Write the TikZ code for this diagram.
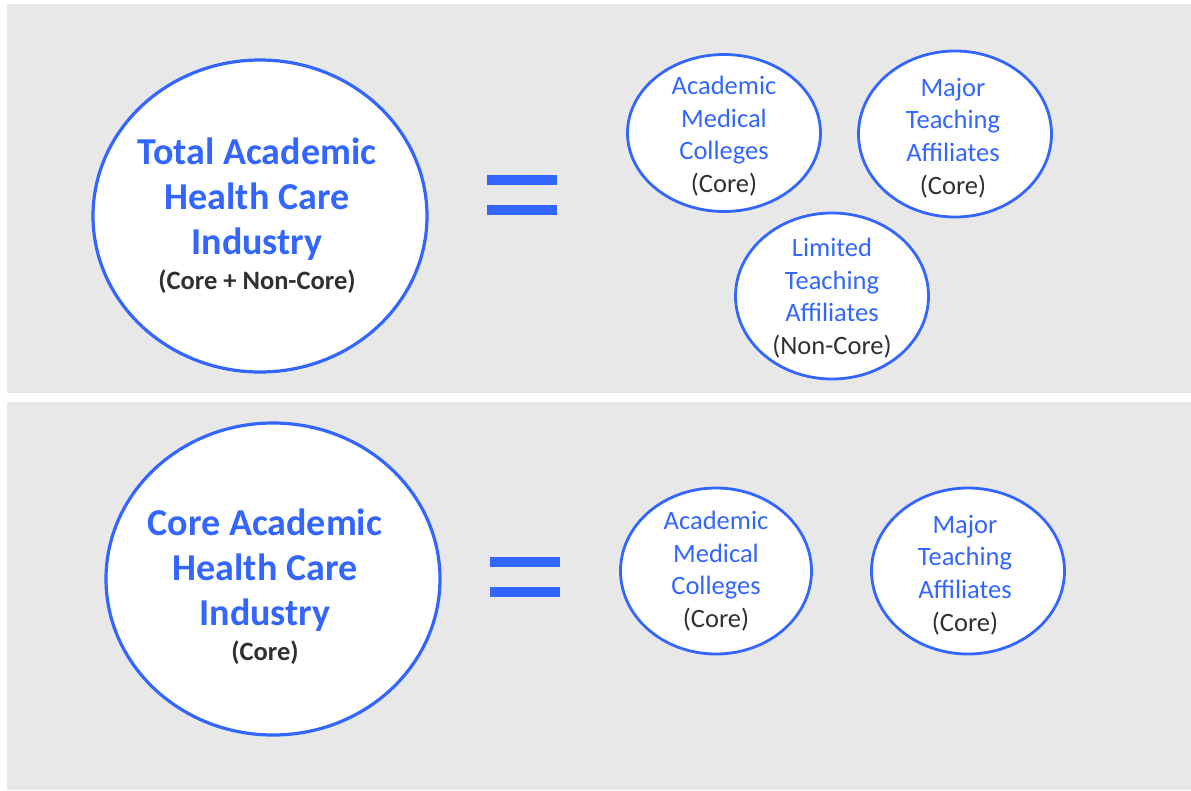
\documentclass[tikz,border=0pt]{standalone}
\usepackage{fontspec}
\setmainfont{Carlito}
\usepackage{tikz}
\usetikzlibrary{shapes.geometric, positioning}

\definecolor{bluetext}{HTML}{3366FF}
\definecolor{panelgray}{HTML}{E8E8E8}
\definecolor{darktext}{HTML}{303030}

\tikzset{
    bigcirc/.style={ellipse, draw=bluetext, fill=white, line width=3.2pt, inner sep=0pt,
        minimum width=334pt, minimum height=312pt},
    smallcirc/.style={ellipse, draw=bluetext, fill=white, line width=2.8pt, inner sep=0pt,
        minimum width=193pt, minimum height=166pt},
    bigtext/.style={align=center, text=bluetext, inner sep=0pt,
        font=\fontsize{38}{45}\selectfont\bfseries},
    smalltext/.style={align=center, text=bluetext, inner sep=0pt,
        font=\fontsize{26.5}{32.7}\selectfont},
}
\newcommand{\subline}[1]{{\color{darktext}\fontsize{26.5}{30}\selectfont #1}}
\newcommand{\coreline}[1]{{\color{darktext}#1}}

\begin{document}
\begin{tikzpicture}[x=1pt,y=-1pt]
    \useasboundingbox (0,0) rectangle (1191,790);
    \fill[white] (0,0) rectangle (1191,790);

    % 两块灰色背景
    \fill[panelgray] (7,4) rectangle (1191,393);
    \fill[panelgray] (7,402) rectangle (1191,790);

    % 上半部分
    \node[bigcirc] (total) at (260,216) {};
    \node[bigtext] (totaltxt) at ([xshift=-3pt]total.center) {Total Academic\\Health Care\\Industry\\[-10pt]\subline{(Core + Non-Core)}};
    \fill[bluetext] (487,175) rectangle (557,185);
    \fill[bluetext] (487,205) rectangle (557,215);
    \node[smallcirc, minimum height=157pt] (amc) at (724,133) {};
    \node[smalltext] (amctxt) at ([yshift=-3pt]amc.center) {Academic\\Medical\\Colleges\\\coreline{(Core)}};
    \node[smallcirc] (mta) at (955,134) {};
    \node[smalltext] (mtatxt) at ([yshift=-4pt, xshift=-2pt]mta.center) {Major\\Teaching\\Affiliates\\\coreline{(Core)}};
    \node[smallcirc] (lta) at (832,296) {};
    \node[smalltext] (ltatxt) at ([yshift=-2pt]lta.center) {Limited\\Teaching\\Affiliates\\\coreline{(Non-Core)}};

    % 下半部分
    \node[bigcirc] (core) at (273,579) {};
    \node[bigtext] (coretxt) at ([yshift=-8pt, xshift=-8pt]core.center) {Core Academic\\Health Care\\Industry\\[-10pt]\subline{(Core)}};
    \fill[bluetext] (490,557) rectangle (560,567);
    \fill[bluetext] (490,587) rectangle (560,597);
    \node[smallcirc, minimum width=191pt] (amc2) at (716,571) {};
    \node[smalltext] (amc2txt) at (amc2.center) {Academic\\Medical\\Colleges\\\coreline{(Core)}};
    \node[smallcirc] (mta2) at (968,571) {};
    \node[smalltext] (mta2txt) at ([yshift=-4pt, xshift=-3pt]mta2.center) {Major\\Teaching\\Affiliates\\\coreline{(Core)}};
\end{tikzpicture}
\end{document}
